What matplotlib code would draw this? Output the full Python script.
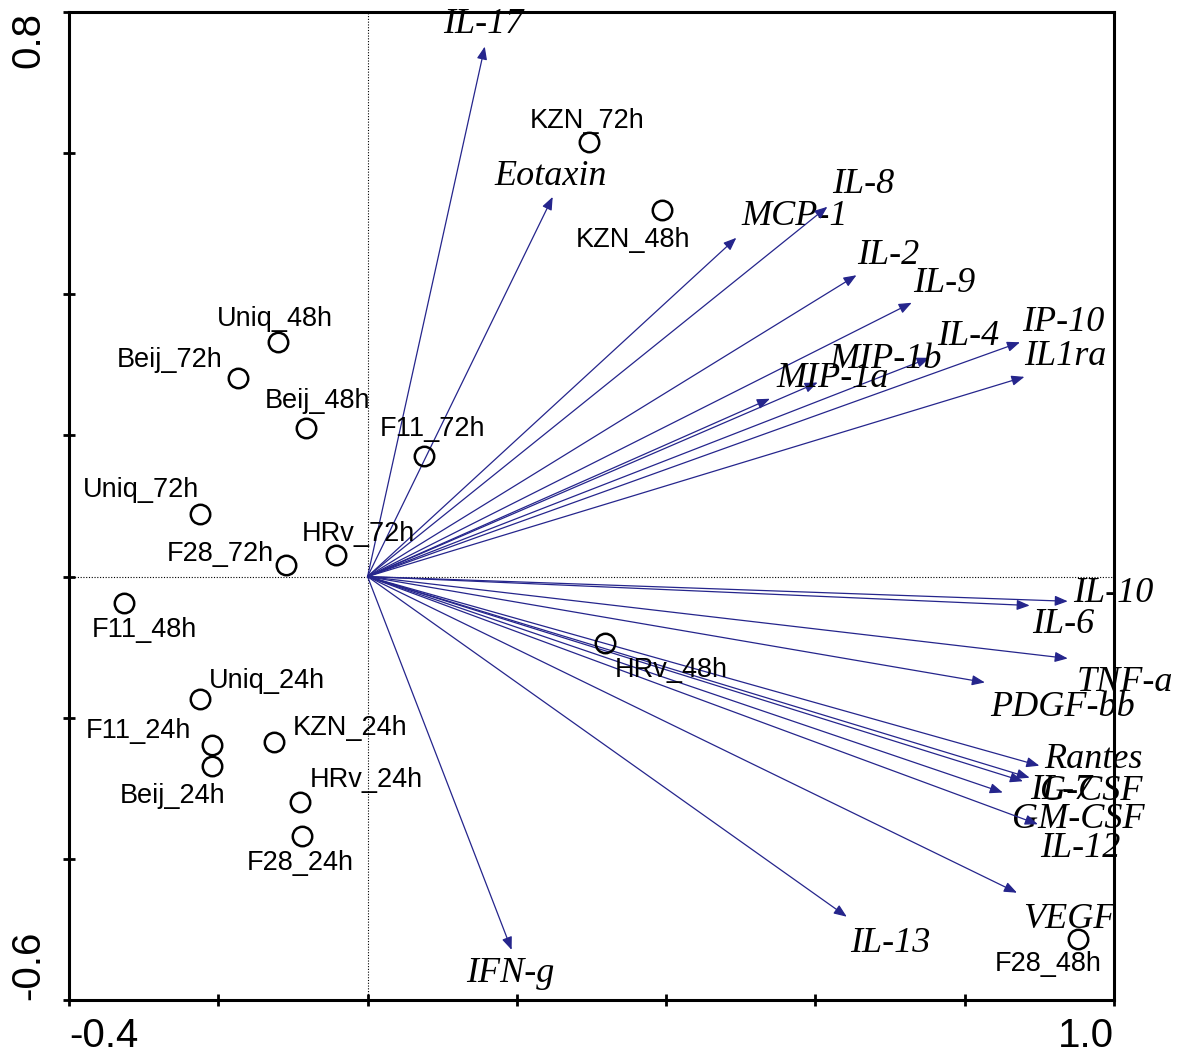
import matplotlib
matplotlib.use("Agg")
import matplotlib.pyplot as plt
import numpy as np

# cytokine vectors (arrow tips)
cytokines = ["IL-17", "Eotaxin", "MCP-1", "IL-8", "IL-2", "IL-9", "IL-4", "MIP-1b",
             "MIP-1a", "IP-10", "IL1ra", "IL-10", "IL-6", "TNF-a", "PDGF-bb", "Rantes",
             "G-CSF", "IL-7", "GM-CSF", "IL-12", "VEGF", "IL-13", "IFN-g"]
cyto_x = [0.157, 0.248, 0.494, 0.616, 0.655, 0.729, 0.753, 0.603,
          0.539, 0.874, 0.880, 0.938, 0.887, 0.938, 0.827, 0.900,
          0.887, 0.878, 0.851, 0.898, 0.870, 0.642, 0.193]
cyto_y = [0.751, 0.538, 0.480, 0.524, 0.427, 0.388, 0.310, 0.275,
          0.252, 0.332, 0.283, -0.035, -0.041, -0.116, -0.150, -0.268,
          -0.285, -0.290, -0.306, -0.351, -0.448, -0.482, -0.529]

# sample scores
samples = ["KZN_72h", "KZN_48h", "Uniq_48h", "Beij_72h", "Beij_48h", "F11_72h",
           "Uniq_72h", "F28_72h", "HRv_72h", "F11_48h", "Uniq_24h", "F11_24h",
           "KZN_24h", "Beij_24h", "HRv_24h", "F28_24h", "HRv_48h", "F28_48h"]
samp_x = [0.297, 0.394, -0.120, -0.173, -0.083, 0.075,
          -0.225, -0.109, -0.042, -0.326, -0.224, -0.209,
          -0.125, -0.209, -0.091, -0.088, 0.318, 0.952]
samp_y = [0.616, 0.520, 0.333, 0.281, 0.211, 0.171,
          0.089, 0.016, 0.030, -0.038, -0.173, -0.238,
          -0.234, -0.268, -0.320, -0.367, -0.094, -0.514]

# label offsets in pixels (left, baseline) from the point/arrow tip
cyto_off = {"IL-17": (-42, 14), "Eotaxin": (-58, 12), "MCP-1": (5, 13), "IL-8": (5, 14),
            "IL-2": (1, 11), "IL-9": (1, 11), "IL-4": (8, 13), "MIP-1b": (12, 15),
            "MIP-1a": (7, 12), "IP-10": (2, 11), "IL1ra": (0, 12), "IL-10": (5, -1),
            "IL-6": (2, -27), "TNF-a": (9, -33), "PDGF-bb": (5, -34), "Rantes": (5, -2),
            "G-CSF": (10, -22), "IL-7": (7, -18), "GM-CSF": (9, -35), "IL-12": (2, -33),
            "VEGF": (6, -35), "IL-13": (3, -35), "IFN-g": (-45, -32)}
samp_off = {"KZN_72h": (-60, 14), "KZN_48h": (-86, -37), "Uniq_48h": (-61, 16),
            "Beij_72h": (-122, 11), "Beij_48h": (-41, 20), "F11_72h": (-44, 20),
            "Uniq_72h": (-117, 17), "F28_72h": (-119, 4), "HRv_72h": (-34, 14),
            "F11_48h": (-32, -34), "Uniq_24h": (9, 11), "F11_24h": (-126, 7),
            "KZN_24h": (18, 7), "Beij_24h": (-92, -37), "HRv_24h": (10, 15),
            "F28_24h": (-55, -34), "HRv_48h": (10, -34), "F28_48h": (-83, -32)}

arrow_col = "#25258c"

fig = plt.figure(figsize=(11.77, 10.59), dpi=100)
ax = fig.add_axes([69 / 1177, 59 / 1059, 1045 / 1177, 988 / 1059])
ax.set_xlim(-0.4, 1.0)
ax.set_ylim(-0.6, 0.8)

ax.axhline(0, color="black", lw=0.8, ls=(0, (1, 1.5)), zorder=1)
ax.axvline(0, color="black", lw=0.8, ls=(0, (1, 1.5)), zorder=1)

for name, x, y in zip(cytokines, cyto_x, cyto_y):
    ax.annotate("", xy=(x, y), xytext=(0, 0),
                arrowprops=dict(arrowstyle="-|>,head_length=0.55,head_width=0.22",
                                mutation_scale=14, color=arrow_col, lw=0.9,
                                shrinkA=0, shrinkB=0))
    dx, dy = cyto_off[name]
    ax.annotate(name, xy=(x, y), xytext=(dx, dy), textcoords="offset pixels",
                family="Liberation Serif", style="italic", fontsize=26,
                ha="left", va="baseline", annotation_clip=False)

ax.plot(samp_x, samp_y, "o", mfc="none", mec="black", ms=14, mew=1.8,
        ls="none", clip_on=False, zorder=3)
for name, x, y in zip(samples, samp_x, samp_y):
    dx, dy = samp_off[name]
    ax.annotate(name, xy=(x, y), xytext=(dx, dy), textcoords="offset pixels",
                family="Liberation Sans", fontsize=19.5,
                ha="left", va="baseline", annotation_clip=False)

for s in ax.spines.values():
    s.set_linewidth(2.2)

xt = np.linspace(-0.4, 1.0, 8)
yt = np.linspace(-0.6, 0.8, 8)
ax.set_xticks(xt)
ax.set_yticks(yt)
ax.set_xticklabels(["-0.4"] + [""] * 6 + ["1.0"])
ax.set_yticklabels(["-0.6"] + [""] * 6 + ["0.8"], rotation=90)
ax.tick_params(direction="inout", length=9, width=2, pad=8,
               labelsize=29, labelfontfamily="Liberation Sans")
ax.tick_params(axis="y", pad=11)
xl = ax.get_xticklabels()
xl[0].set_ha("left")
xl[-1].set_ha("right")
yl = ax.get_yticklabels()
yl[0].set_va("bottom")
yl[-1].set_va("top")

fig.savefig("out.png", dpi=100)
